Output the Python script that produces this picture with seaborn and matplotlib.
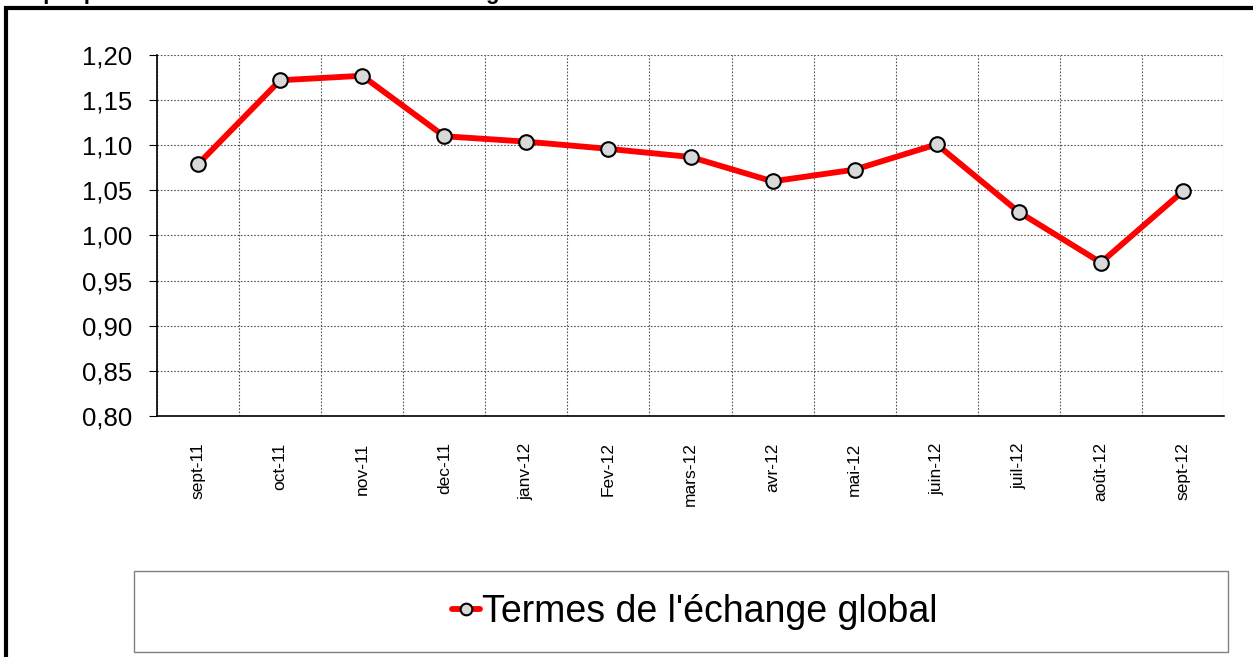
import numpy as np
import pandas as pd
import seaborn as sns
from matplotlib import pyplot as plt
from matplotlib.patches import Rectangle

months = ["sept-11", "oct-11", "nov-11", "dec-11", "janv-12", "Fev-12", "mars-12",
          "avr-12", "mai-12", "juin-12", "juil-12", "août-12", "sept-12"]
values = [1.079, 1.172, 1.177, 1.110, 1.104, 1.096, 1.087,
          1.060, 1.073, 1.101, 1.026, 0.970, 1.049]
y_ticks = [0.80, 0.85, 0.90, 0.95, 1.00, 1.05, 1.10, 1.15, 1.20]
series_name = "Termes de l'échange global"
title = "Graphique 3: Evolution des termes de l'échange"

df = pd.DataFrame({"pos": np.arange(len(months)), "month": months, "value": values})

sns.set_style("white")
plt.rcParams['font.family'] = ['Liberation Sans', 'DejaVu Sans']
plt.rcParams['text.color'] = 'black'
plt.rcParams['xtick.color'] = 'black'
plt.rcParams['ytick.color'] = 'black'

fig = plt.figure(figsize=(12.53, 6.57), dpi=100)
ax = fig.add_axes([157 / 1253, 1 - 416 / 657, 1067 / 1253, 361 / 657])

sns.lineplot(data=df, x="pos", y="value", ax=ax, color="red", linewidth=4.2,
             marker="o", markersize=10.5, markerfacecolor="#d9d9d9",
             markeredgecolor="black", markeredgewidth=1.5, label=series_name,
             sort=False)

ax.set_xlim(-0.5, len(months) - 0.5)
ax.set_ylim(0.80, 1.20)
ax.set_yticks(y_ticks)
ax.set_yticklabels([f"{v:.2f}".replace(".", ",") for v in y_ticks], fontsize=18.5)
ax.set_xticks(df["pos"])
ax.set_xticklabels(months, rotation=90, fontsize=12.5)
ax.set_xticks(np.arange(len(months) + 1) - 0.5, minor=True)
ax.tick_params(axis="x", which="major", length=0, pad=19)
ax.tick_params(axis="x", which="minor", length=6, width=0.8, color="#808080", direction="out")
ax.tick_params(axis="y", which="major", length=6, width=0.8, direction="out", left=True, pad=12)
ax.set_xlabel("")
ax.set_ylabel("")

ax.grid(False)
ax.yaxis.grid(True, linestyle=(0, (1.5, 1.5)), color="#555555", linewidth=0.8)
ax.xaxis.grid(True, which="minor", linestyle=(0, (1.5, 1.5)), color="#555555", linewidth=0.8)
for s in ["top", "right"]:
    ax.spines[s].set_visible(False)
for s in ["left", "bottom"]:
    ax.spines[s].set_color("black")
    ax.spines[s].set_linewidth(1.2)
ax.get_legend().remove()

# outer chart frame (cropped at right and bottom)
fig.patches.append(Rectangle((6 / 1253, -0.05), 1.1, 1 - 7.5 / 657 + 0.05,
                             transform=fig.transFigure, fill=False,
                             edgecolor="black", linewidth=3))

# title, cropped by the top edge as in the original
fig.text(5 / 1253, 1 + 1.5 / 657, title, fontsize=16, fontweight="bold",
         ha="left", va="baseline")

# legend box
fig.patches.append(Rectangle((134 / 1253, 1 - 652 / 657), 1094 / 1253, 81 / 657,
                             transform=fig.transFigure, fill=False,
                             edgecolor="#808080", linewidth=1))
handles, labels = ax.get_lines()[:1], [series_name]
fig.legend(handles, labels, loc="center", bbox_to_anchor=(695 / 1253, 1 - 612 / 657),
           frameon=False, fontsize=27, handlelength=0.75, handletextpad=0.05,
           markerscale=0.8)

fig.savefig("out.png", dpi=100)
